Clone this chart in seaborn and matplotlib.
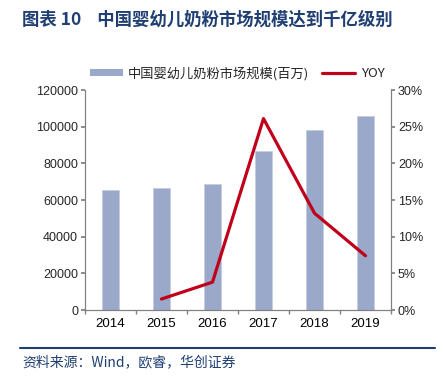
import numpy as np
import pandas as pd
import seaborn as sns
import matplotlib.pyplot as plt
from matplotlib.patches import Patch
from matplotlib.lines import Line2D

years = ["2014", "2015", "2016", "2017", "2018", "2019"]
market_size = [65500, 66400, 68800, 86900, 98400, 105900]
yoy_years = ["2015", "2016", "2017", "2018", "2019"]
yoy = [1.5, 3.8, 26.1, 13.2, 7.4]

title = "图表 10    中国婴幼儿奶粉市场规模达到千亿级别"
bar_label = "中国婴幼儿奶粉市场规模(百万)"
line_label = "YOY"
source = "资料来源：Wind，欧睿，华创证券"

sns.set_theme(style="white")
plt.rcParams['font.family'] = ['Liberation Sans', 'Noto Sans CJK SC', 'DejaVu Sans']

df_bar = pd.DataFrame({"year": years, "size": market_size})
df_line = pd.DataFrame({"year": yoy_years, "yoy": yoy})
df_line["pos"] = [years.index(y) for y in yoy_years]

bar_color = "#9AA8C9"
line_color = "#C0001A"
navy = "#1F3F73"
cjk = ['Noto Sans CJK SC', 'DejaVu Sans']

fig = plt.figure(figsize=(4.44, 3.76), dpi=100)
ax = fig.add_axes([0.1914, 0.1755, 0.6892, 0.5851])

sns.barplot(data=df_bar, x="year", y="size", ax=ax, color=bar_color,
            width=0.33, saturation=1, edgecolor="#C5CDE0", linewidth=0.6)
ax.set_xlim(-0.5, len(years) - 0.5)
ax.set_ylim(0, 120000)
ax.set_yticks(np.arange(0, 120001, 20000))
ax.set_xlabel("")
ax.set_ylabel("")

ax2 = ax.twinx()
sns.lineplot(data=df_line, x="pos", y="yoy", ax=ax2, color=line_color,
             linewidth=2.3)
ax2.set_ylim(0, 30)
ax2.set_yticks(np.arange(0, 31, 5))
ax2.set_yticklabels([f"{v}%" for v in range(0, 31, 5)])
ax2.set_xlim(-0.5, len(years) - 0.5)
ax2.set_xlabel("")
ax2.set_ylabel("")

for a in (ax, ax2):
    a.spines['top'].set_visible(False)
    for s in ('left', 'right', 'bottom'):
        a.spines[s].set_color("#808080")
        a.spines[s].set_linewidth(0.8)

ax.set_xticks(range(len(years)))
ax.set_xticklabels(years)
ax.set_xticks(np.arange(-0.5, len(years), 1), minor=True)
ax.tick_params(axis='x', which='major', length=0, labelsize=9.5, pad=6, colors='black')
ax.tick_params(axis='x', which='minor', length=3, color="#808080", direction='out', bottom=True)
ax.tick_params(axis='y', length=3, color="#808080", direction='out', left=True, labelsize=9, pad=2)
ax2.tick_params(axis='y', length=3, color="#808080", direction='out', right=True, labelsize=9, pad=2)

handles = [Patch(facecolor=bar_color, edgecolor='none'),
           Line2D([0], [0], color=line_color, linewidth=2.3)]
fig.legend(handles, [bar_label, line_label], loc='center left', bbox_to_anchor=(0.175, 0.805),
           ncol=2, frameon=False, handlelength=2.5, handleheight=0.45,
           columnspacing=1.0, handletextpad=0.4,
           prop={'family': cjk, 'size': 9.5})

fig.text(0.05, 0.947, title, fontsize=12.5, fontweight='bold', color=navy,
         family=cjk, va='center')
fig.add_artist(Line2D([0.045, 0.98], [0.074, 0.074], color=navy, linewidth=1.5))
fig.text(0.05, 0.037, source, fontsize=10, color=navy, style='italic',
         family=cjk, va='center')

fig.savefig("out.png", dpi=100)
plt.close(fig)
